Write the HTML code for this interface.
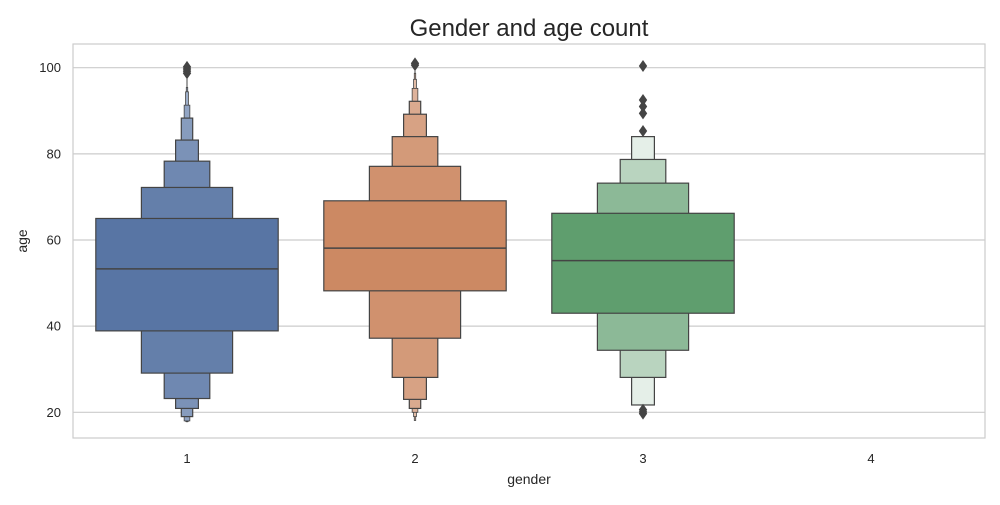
<!DOCTYPE html>
<html><head><meta charset="utf-8"><style>
body{margin:0;background:#fff;}
svg text{font-family:"Liberation Sans","DejaVu Sans",sans-serif;fill:#262626;}
</style></head><body>
<svg id="chart" width="1000" height="500" xmlns="http://www.w3.org/2000/svg">
<rect width="1000" height="500" fill="#fff"/>
<text x="529" y="36" font-size="24" text-anchor="middle">Gender and age count</text>
<g id="grid"></g>
<g id="marks"></g>
<rect x="73" y="44" width="912" height="394" fill="none" stroke="#cccccc" stroke-width="1.2"/>
<g id="ticks"></g>
<text x="529" y="484" font-size="14" text-anchor="middle">gender</text>
<text x="0" y="0" font-size="14" text-anchor="middle" transform="translate(27,241) rotate(-90)">age</text>
</svg>
<script>
const categories = ["1","2","3","4"];
const yTicks = [20,40,60,80,100];
const medians = [53.3, 58.1, 55.2];
// letter-value boxes: [upper, lower] per level
const levels1 = [[65.0,38.9],[72.2,29.1],[78.3,23.2],[83.2,20.9],[88.3,19.0],[91.3,18.0],[94.4,17.9],[95.4,17.8]];
const levels2 = [[69.1,48.2],[77.1,37.2],[84.0,28.1],[89.2,23.0],[92.2,20.9],[95.2,20.0],[97.3,19.0],[98.7,18.1]];
const levels3 = [[66.2,43.0],[73.2,34.4],[78.7,28.1],[84.0,21.7]];
const outliers1 = [100.2, 99.7, 99.2, 98.7];
const outliers2 = [101.0, 100.6];
const outliers3 = [100.4, 92.5, 91.0, 89.4, 85.3, 20.6, 20.1, 19.7];

const NS="http://www.w3.org/2000/svg";
const x0=73, x1=985;
function xScale(i){ return x0 + (i+0.5)*(x1-x0)/categories.length; }
function yScale(v){ return 412.3 - (v-20)*4.3075; }
function mk(tag, attrs, parent){ const e=document.createElementNS(NS,tag); for(const k in attrs) e.setAttribute(k,attrs[k]); parent.appendChild(e); return e; }
function mix(hex, t){ const n=parseInt(hex.slice(1),16); const r=n>>16,g=(n>>8)&255,b=n&255;
  const f=c=>Math.round(c+(255-c)*t); return `rgb(${f(r)},${f(g)},${f(b)})`; }

const grid=document.getElementById('grid'), ticks=document.getElementById('ticks'), marks=document.getElementById('marks');
yTicks.forEach(v=>{
  const l=mk('line',{x1:x0,x2:x1,y1:yScale(v),y2:yScale(v),stroke:'#cccccc','stroke-width':1.2},grid);
  
  
  const t=mk('text',{x:61,y:yScale(v)+4.5,'font-size':13,'text-anchor':'end'},ticks);
  t.textContent=v;
  
  
});
categories.forEach((c,i)=>{
  const t=mk('text',{x:xScale(i),y:463,'font-size':13,'text-anchor':'middle'},ticks);
  t.textContent=c;
  
  
});

const groups=[{lv:levels1,out:outliers1,col:'#5875a4',k:0.07},{lv:levels2,out:outliers2,col:'#cc8963',k:0.07},{lv:levels3,out:outliers3,col:'#5f9e6e',k:0.28}];
groups.forEach((g,i)=>{
  const cx=xScale(i);
  const grp=mk('g',{},marks);
  
  
  const full=(x1-x0)/categories.length*0.8/2;
  if(g.lv.length>4){
    const top=g.lv[g.lv.length-1][0];
    const w=mk('line',{x1:cx,x2:cx,y1:yScale(top),y2:yScale(Math.min(...g.out)),stroke:'#444','stroke-width':1},grp);
    
    
  }
  for(let j=g.lv.length-1;j>=0;j--){
    const hw=full/Math.pow(2,j);
    const [hi,lo]=g.lv[j];
    const r=mk('rect',{x:cx-hw,y:yScale(hi),width:2*hw,height:yScale(lo)-yScale(hi),fill:mix(g.col,j*g.k),stroke:'#444',
      'stroke-width':j>4?0.8:1.2},grp);
    
    
  }
  const m=mk('line',{x1:cx-full,x2:cx+full,y1:yScale(medians[i]),y2:yScale(medians[i]),stroke:'#444','stroke-width':1.5},grp);
  
  
  g.out.forEach(v=>{
    const y=yScale(v);
    const d=mk('path',{d:`M${cx},${y-6}L${cx+4.2},${y}L${cx},${y+6}L${cx-4.2},${y}Z`,fill:'#444'},grp);
    
    
  });
});
</script>
</body></html>
